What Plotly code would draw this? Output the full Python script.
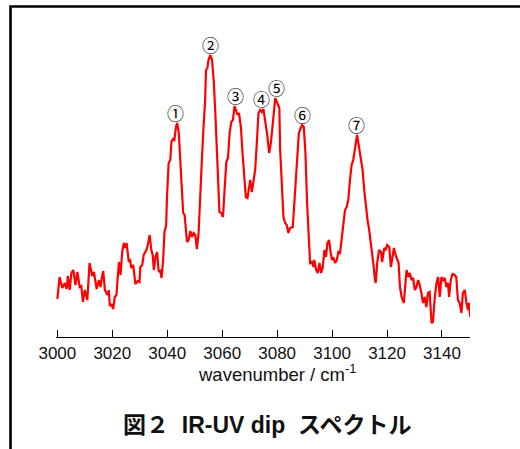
import plotly.graph_objects as go

wavenumber = [
    3000.0, 3000.8, 3001.8, 3002.7, 3003.4, 3003.8, 3004.5, 3005.1, 3005.8, 3006.6,
    3007.3, 3008.1, 3008.7, 3009.3, 3010.0, 3010.9, 3011.7, 3012.7, 3013.3, 3014.3,
    3015.1, 3015.7, 3016.1, 3016.7, 3017.3, 3018.2, 3018.7, 3019.1, 3019.7, 3020.3,
    3020.9, 3021.5, 3022.4, 3023.0, 3023.6, 3024.2, 3024.8, 3025.2, 3026.0, 3026.4,
    3026.9, 3027.6, 3028.4, 3029.3, 3029.9, 3030.2, 3030.9, 3031.4, 3032.4, 3032.9,
    3033.6, 3034.2, 3034.7, 3035.1, 3035.7, 3036.3, 3036.9, 3037.5, 3037.9, 3038.5,
    3039.0, 3039.6, 3039.9, 3040.5, 3041.1, 3041.5, 3042.1, 3042.6, 3043.1, 3043.6,
    3044.2, 3044.8, 3045.4, 3045.8, 3046.3, 3047.2, 3047.8, 3048.4, 3049.0, 3049.6,
    3050.2, 3050.8, 3051.4, 3052.0, 3052.6, 3053.2, 3053.8, 3054.1, 3054.6, 3055.0,
    3055.7, 3056.3, 3056.9, 3057.5, 3058.1, 3058.7, 3059.0, 3059.7, 3060.3, 3060.7,
    3061.5, 3062.1, 3062.7, 3063.3, 3063.9, 3064.5, 3064.9, 3065.6, 3066.1, 3066.8,
    3067.4, 3068.0, 3068.6, 3069.2, 3069.7, 3070.2, 3070.8, 3071.4, 3072.0, 3072.6,
    3073.2, 3073.8, 3074.4, 3075.0, 3075.6, 3076.3, 3077.1, 3077.7, 3078.3, 3078.9,
    3079.3, 3079.9, 3080.5, 3080.8, 3081.1, 3081.7, 3082.3, 3082.9, 3083.5, 3084.1,
    3084.7, 3085.7, 3086.2, 3086.8, 3087.3, 3087.9, 3088.6, 3089.1, 3089.7, 3090.3,
    3090.9, 3091.4, 3091.8, 3092.0, 3092.6, 3093.2, 3093.5, 3094.2, 3094.8, 3095.4,
    3096.0, 3096.6, 3097.2, 3097.8, 3098.3, 3098.9, 3099.5, 3100.0, 3100.4, 3101.1,
    3101.7, 3102.3, 3102.9, 3103.5, 3104.1, 3104.7, 3105.3, 3105.9, 3106.5, 3107.1,
    3107.7, 3108.3, 3109.1, 3109.8, 3110.4, 3111.1, 3111.7, 3112.3, 3112.9, 3113.5,
    3114.1, 3114.7, 3115.2, 3115.6, 3115.9, 3116.4, 3117.1, 3117.8, 3118.2, 3119.0,
    3119.6, 3120.0, 3120.8, 3121.4, 3121.9, 3122.5, 3123.1, 3123.7, 3124.2, 3124.7,
    3125.3, 3126.1, 3126.6, 3127.1, 3127.7, 3128.3, 3128.9, 3129.5, 3130.1, 3130.7,
    3131.3, 3131.9, 3132.5, 3133.1, 3133.7, 3134.3, 3134.9, 3135.5, 3136.2, 3136.7,
    3137.4, 3138.0, 3138.6, 3139.2, 3139.8, 3140.4, 3141.0, 3141.6, 3142.2, 3142.6,
    3143.2, 3143.8, 3144.6, 3145.2, 3145.8, 3146.4, 3147.1, 3147.6, 3148.3, 3148.9,
    3149.5, 3149.8, 3150.3,
]

intensity = [
    0.38, 0.60, 0.49, 0.54, 0.48, 0.61, 0.47, 0.64, 0.67, 0.52,
    0.65, 0.50, 0.51, 0.35, 0.47, 0.37, 0.74, 0.61, 0.65, 0.48,
    0.57, 0.50, 0.58, 0.66, 0.47, 0.42, 0.47, 0.31, 0.33, 0.28,
    0.40, 0.42, 0.75, 0.62, 0.85, 0.94, 0.89, 0.94, 0.75, 0.78,
    0.69, 0.72, 0.53, 0.56, 0.55, 0.70, 0.72, 0.82, 0.87, 0.92,
    1.02, 0.87, 0.82, 0.67, 0.80, 0.85, 0.65, 0.67, 0.59, 0.77,
    1.05, 1.12, 1.40, 1.74, 1.77, 1.95, 1.98, 1.97, 2.09, 2.14,
    2.04, 1.77, 1.50, 1.24, 1.22, 0.95, 0.97, 1.06, 1.00, 1.04,
    1.02, 0.88, 1.04, 1.34, 1.77, 2.10, 2.37, 2.67, 2.69, 2.77,
    2.82, 2.77, 2.57, 2.24, 1.87, 1.54, 1.25, 1.24, 1.20, 1.40,
    1.75, 1.79, 2.04, 2.15, 2.17, 2.31, 2.27, 2.22, 2.24, 2.10,
    1.84, 1.57, 1.40, 1.39, 1.47, 1.57, 1.45, 1.57, 1.67, 1.94,
    2.24, 2.27, 2.25, 2.28, 2.17, 2.04, 1.84, 1.94, 2.10, 2.24,
    2.39, 2.35, 2.32, 2.29, 1.87, 1.57, 1.20, 1.14, 1.12, 1.04,
    1.09, 1.10, 1.34, 1.60, 1.84, 2.04, 2.09, 2.12, 2.10, 1.84,
    1.34, 1.01, 0.79, 0.74, 0.75, 0.70, 0.77, 0.67, 0.64, 0.74,
    0.64, 0.70, 0.87, 0.80, 0.94, 0.97, 0.84, 0.77, 0.80, 0.74,
    0.77, 0.85, 0.84, 0.97, 1.12, 1.27, 1.30, 1.37, 1.57, 1.72,
    1.77, 1.87, 2.02, 1.90, 1.77, 1.67, 1.47, 1.30, 1.17, 1.07,
    0.94, 0.84, 0.69, 0.57, 0.54, 0.74, 0.87, 0.85, 0.75, 0.89,
    0.87, 0.92, 0.90, 0.70, 0.77, 0.89, 0.82, 0.77, 0.74, 0.50,
    0.40, 0.34, 0.50, 0.67, 0.60, 0.64, 0.57, 0.59, 0.47, 0.50,
    0.57, 0.52, 0.44, 0.34, 0.40, 0.30, 0.44, 0.45, 0.14, 0.15,
    0.40, 0.54, 0.60, 0.40, 0.60, 0.57, 0.59, 0.50, 0.54, 0.40,
    0.57, 0.63, 0.62, 0.60, 0.37, 0.34, 0.24, 0.44, 0.47, 0.34,
    0.27, 0.34, 0.20,
]

tick_values = [3000, 3020, 3040, 3060, 3080, 3100, 3120, 3140]
peak_labels = ["①", "②", "③", "④", "⑤", "⑥", "⑦"]
peak_positions = [3043.0, 3055.7, 3064.7, 3074.2, 3079.6, 3089.2, 3109.0]
x_title = "wavenumber / cm<sup>-1</sup>"
caption = "<b>図２  IR-UV dip  スペクトル</b>"

W, H = 520, 449
ML, MR, MT, MB = 56, 50, 20, 112
PW, PH = W - ML - MR, H - MT - MB


def px(x):
    return (x - ML) / PW


def py(y):
    return (H - MB - y) / PH


fig = go.Figure()
fig.add_trace(go.Scatter(
    x=wavenumber, y=intensity, mode="lines",
    line=dict(color="#ff0000", width=2.2), showlegend=False, hoverinfo="skip",
))

annotations = []
for lab, pos in zip(peak_labels, peak_positions):
    local = [v for w, v in zip(wavenumber, intensity) if abs(w - pos) <= 1.0]
    annotations.append(dict(
        x=pos, y=max(local), xref="x", yref="y", text=lab, showarrow=False,
        yshift=11, font=dict(family="Noto Sans CJK JP", size=17, color="#000"),
    ))

annotations.append(dict(
    x=px(277), y=py(373), xref="paper", yref="paper", text=x_title, showarrow=False,
    font=dict(family="Liberation Sans, Arial", size=18.5, color="#111"),
    xanchor="center", yanchor="middle",
))

annotations.append(dict(
    x=px(267), y=py(425), xref="paper", yref="paper", text=caption, showarrow=False,
    font=dict(family="Liberation Sans, Noto Sans CJK JP", size=23, color="#111"),
    xanchor="center", yanchor="middle",
))

# outer frame: only the top and left edges fall inside the page
shapes = [
    dict(type="rect", xref="paper", yref="paper", x0=px(10.5), x1=px(560), y0=py(6.5), y1=py(480),
         fillcolor="rgba(0,0,0,0)", line=dict(color="#000", width=2.6), layer="above"),
]

fig.update_layout(
    width=W, height=H,
    margin=dict(l=ML, r=MR, t=MT, b=MB),
    paper_bgcolor="white", plot_bgcolor="white",
    annotations=annotations, shapes=shapes,
    xaxis=dict(
        range=[2999.5, 3150.2], tickvals=tick_values, ticks="inside", ticklen=7,
        tickwidth=1, tickcolor="#000", showline=True, linecolor="#000", linewidth=1.2,
        showgrid=False, zeroline=False,
        tickfont=dict(family="Liberation Sans, Arial", size=17, color="#111"),
    ),
    yaxis=dict(range=[0, 3.17], visible=False),
)

fig.write_html(
    "out.html",
    config={"displayModeBar": False},
    post_script=(
        "document.documentElement.style.overflow='hidden';"
        "document.body.style.margin='0';document.body.style.padding='0';"
        "window.scrollTo(0,0);"
    ),
)
